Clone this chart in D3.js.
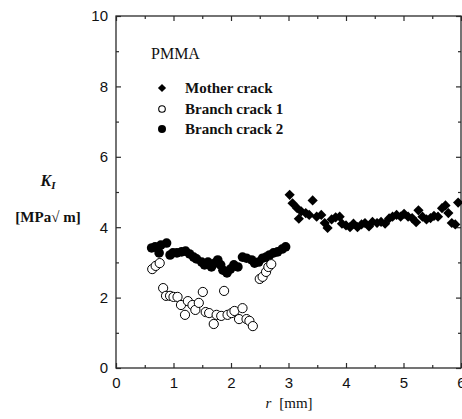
<!DOCTYPE html>
<html>
<head>
<meta charset="utf-8">
<script src="https://cdn.jsdelivr.net/npm/d3@7"></script>
<style>
  body { margin: 0; background: #fff; }
  svg { display: block; font-family: "Liberation Serif", "Times New Roman", serif; }
</style>
</head>
<body>
<svg id="chart" width="462" height="419"></svg>
<script>
// mother crack (diamonds)
const motherR = [3.02, 3.07, 3.15, 3.22, 3.18, 3.30, 3.36, 3.42, 3.49, 3.57, 3.63, 3.68, 3.75, 3.82, 3.89, 3.93, 4.00, 4.07, 4.13, 4.20, 4.27, 4.33, 4.40, 4.46, 4.54, 4.61, 4.68, 4.75, 4.81, 4.88, 4.95, 5.01, 5.08, 5.15, 5.22, 5.26, 5.33, 5.40, 5.47, 5.53, 5.60, 5.67, 5.73, 5.78, 5.84, 5.90, 5.95];
const motherK = [4.92, 4.68, 4.54, 4.45, 4.24, 4.40, 4.35, 4.76, 4.30, 4.35, 4.12, 3.98, 4.22, 4.28, 4.30, 4.10, 4.05, 4.00, 4.10, 4.00, 4.08, 4.12, 4.02, 4.15, 4.12, 4.15, 4.10, 4.25, 4.30, 4.35, 4.30, 4.38, 4.30, 4.26, 4.14, 4.48, 4.30, 4.22, 4.26, 4.32, 4.30, 4.54, 4.62, 4.40, 4.12, 4.08, 4.70];

// branch crack 1 (open circles)
const branch1R = [0.63, 0.69, 0.76, 0.82, 0.87, 0.94, 1.00, 1.07, 1.13, 1.20, 1.25, 1.33, 1.38, 1.44, 1.51, 1.56, 1.62, 1.70, 1.75, 1.83, 1.88, 1.94, 2.01, 2.06, 2.14, 2.20, 2.27, 2.32, 2.38, 2.50, 2.55, 2.61, 2.65, 2.70];
const branch1K = [2.81, 2.90, 2.98, 2.27, 2.05, 2.05, 2.02, 2.02, 1.79, 1.51, 1.90, 1.79, 1.65, 1.85, 2.16, 1.59, 1.56, 1.25, 1.51, 1.48, 2.19, 1.51, 1.56, 1.62, 1.39, 1.70, 1.39, 1.34, 1.19, 2.53, 2.59, 2.73, 2.87, 2.95];

// branch crack 2 (filled circles)
const branch2R = [0.62, 0.68, 0.75, 0.78, 0.88, 0.94, 0.99, 1.06, 1.14, 1.21, 1.28, 1.35, 1.40, 1.49, 1.54, 1.60, 1.66, 1.72, 1.77, 1.82, 1.86, 1.93, 1.99, 2.05, 2.12, 2.20, 2.27, 2.36, 2.41, 2.48, 2.55, 2.61, 2.67, 2.74, 2.81, 2.89, 2.95];
const branch2K = [3.41, 3.44, 3.27, 3.49, 3.55, 3.21, 3.27, 3.27, 3.30, 3.32, 3.24, 3.15, 3.10, 3.01, 2.93, 3.01, 2.87, 2.98, 3.07, 2.93, 2.78, 2.70, 2.81, 2.93, 2.87, 3.15, 3.12, 3.07, 2.98, 3.01, 3.12, 3.15, 3.21, 3.27, 3.30, 3.38, 3.44];

const xTicks = [0, 1, 2, 3, 4, 5, 6];
const yTicks = [0, 2, 4, 6, 8, 10];
const legendLabels = ["Mother crack", "Branch crack 1", "Branch crack 2"];

const svg = d3.select("#chart");
const mLeft = 116, mRight = 461, mTop = 16, mBottom = 368;

const x = d3.scaleLinear().domain([0, 6]).range([mLeft, mRight]);
const y = d3.scaleLinear().domain([0, 10]).range([mBottom, mTop]);

const axisColor = "#2a2a2a";

// frame
svg.append("rect")
    .attr("x", mLeft).attr("y", mTop)
    .attr("width", mRight - mLeft).attr("height", mBottom - mTop)
    .attr("fill", "none").attr("stroke", axisColor).attr("stroke-width", 1.3);

const xMinor = d3.range(0.5, 6, 1);
const yMinor = d3.range(1, 10, 2);

function styleAxis(g) {
    g.select(".domain").remove();
    g.selectAll(".tick line").attr("stroke", axisColor).attr("stroke-width", 1.2);
    g.selectAll(".tick text").attr("fill", "#111").attr("font-size", 15);
}

// bottom
svg.append("g").attr("transform", `translate(0,${mBottom})`)
    .call(d3.axisBottom(x).tickValues(xTicks).tickSize(-5).tickPadding(9).tickFormat(d3.format("d")))
    .call(styleAxis);
svg.append("g").attr("transform", `translate(0,${mBottom})`)
    .call(d3.axisBottom(x).tickValues(xMinor).tickSize(-3).tickFormat(""))
    .call(styleAxis);
// top
svg.append("g").attr("transform", `translate(0,${mTop})`)
    .call(d3.axisTop(x).tickValues(xTicks).tickSize(-5).tickFormat(""))
    .call(styleAxis);
svg.append("g").attr("transform", `translate(0,${mTop})`)
    .call(d3.axisTop(x).tickValues(xMinor).tickSize(-3).tickFormat(""))
    .call(styleAxis);
// left
svg.append("g").attr("transform", `translate(${mLeft},0)`)
    .call(d3.axisLeft(y).tickValues(yTicks).tickSize(-5).tickPadding(8).tickFormat(d3.format("d")))
    .call(styleAxis);
svg.append("g").attr("transform", `translate(${mLeft},0)`)
    .call(d3.axisLeft(y).tickValues(yMinor).tickSize(-3).tickFormat(""))
    .call(styleAxis);
// right
svg.append("g").attr("transform", `translate(${mRight},0)`)
    .call(d3.axisRight(y).tickValues(yTicks).tickSize(-5).tickFormat(""))
    .call(styleAxis);
svg.append("g").attr("transform", `translate(${mRight},0)`)
    .call(d3.axisRight(y).tickValues(yMinor).tickSize(-3).tickFormat(""))
    .call(styleAxis);

// markers
const diamond = d3.symbol().type(d3.symbolSquare).size(52);
const diamondSmall = d3.symbol().type(d3.symbolSquare).size(34);

svg.append("g").selectAll("circle")
    .data(d3.zip(branch2R, branch2K))
    .join("circle")
    .attr("cx", d => x(d[0])).attr("cy", d => y(d[1]))
    .attr("r", 4.8).attr("fill", "#000");

svg.append("g").selectAll("circle")
    .data(d3.zip(branch1R, branch1K))
    .join("circle")
    .attr("cx", d => x(d[0])).attr("cy", d => y(d[1]))
    .attr("r", 4.6).attr("fill", "#fff").attr("stroke", "#000").attr("stroke-width", 1);

svg.append("g").selectAll("path")
    .data(d3.zip(motherR, motherK))
    .join("path")
    .attr("d", diamond)
    .attr("transform", d => `translate(${x(d[0])},${y(d[1])}) rotate(45)`)
    .attr("fill", "#000");

// legend
svg.append("text").attr("x", 151).attr("y", 59)
    .attr("font-size", 16).attr("fill", "#111").text("PMMA");

const legend = svg.append("g");
const rows = [88, 109, 129];
legend.append("path").attr("d", diamondSmall)
    .attr("transform", `translate(162,${rows[0]}) rotate(45)`).attr("fill", "#000");
legend.append("circle").attr("cx", 162).attr("cy", rows[1]).attr("r", 3.3)
    .attr("fill", "#fff").attr("stroke", "#000").attr("stroke-width", 1.1);
legend.append("circle").attr("cx", 162).attr("cy", rows[2]).attr("r", 4)
    .attr("fill", "#000");
legend.selectAll("text")
    .data(legendLabels)
    .join("text")
    .attr("x", 185).attr("y", (d, i) => rows[i] + 5)
    .attr("font-size", 15).attr("font-weight", "bold").attr("fill", "#111")
    .text(d => d);

// axis titles
const yt = svg.append("text").attr("x", 48).attr("y", 186)
    .attr("text-anchor", "middle").attr("font-weight", "bold").attr("font-style", "italic")
    .attr("font-size", 16).attr("fill", "#111");
yt.append("tspan").text("K");
yt.append("tspan").attr("font-size", 11).attr("dy", 3).text("I");

svg.append("text").attr("x", 48).attr("y", 222)
    .attr("text-anchor", "middle").attr("font-weight", "bold")
    .attr("font-size", 15).attr("fill", "#111")
    .text("[MPa\u221A m]");

const xt = svg.append("text").attr("x", 289).attr("y", 408)
    .attr("text-anchor", "middle").attr("font-size", 15).attr("fill", "#111");
xt.append("tspan").attr("font-style", "italic").text("r");
xt.append("tspan").attr("dx", 8).text("[mm]");
</script>
</body>
</html>
